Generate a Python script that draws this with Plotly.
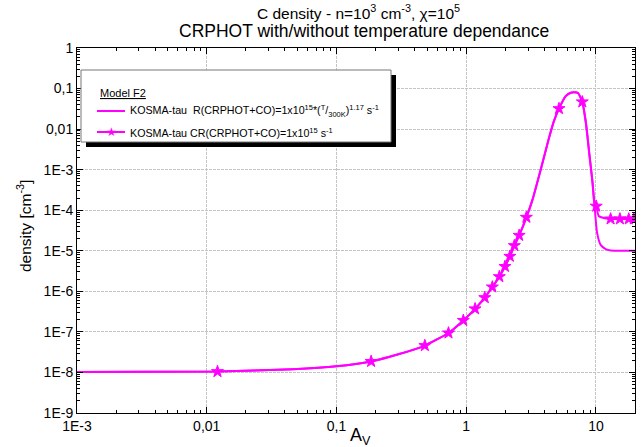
import math
import plotly.graph_objects as go

# ---------------- data ----------------
# Part of the profile shared by both models (A_V, C density in cm^-3)
AV_SHARED = [0.001, 0.0121, 0.046, 0.1, 0.185, 0.3, 0.48, 0.73, 0.95, 1.17, 1.39,
             1.59, 1.80, 1.99, 2.17, 2.35, 2.56, 2.91, 3.24, 3.75, 4.35, 4.75,
             5.19, 5.85, 6.4, 6.8, 7.3, 7.85, 8.4, 8.85, 9.4, 9.7]
C_SHARED = [1.02e-8, 1.05e-8, 1.2e-8, 1.42e-8, 1.87e-8, 2.8e-8, 4.6e-8, 9.4e-8,
            1.92e-7, 3.7e-7, 7.0e-7, 1.28e-6, 2.3e-6, 4.1e-6, 7.3e-6, 1.34e-5,
            2.4e-5, 6.7e-5, 1.8e-4, 1.0e-3, 6.1e-3, 0.016, 0.032, 0.065, 0.079,
            0.081, 0.077, 0.047, 0.013, 2.8e-3, 5.0e-4, 1.6e-4]

# Tail of the temperature-dependent model (no markers)
AV_TAIL_T = [10.2, 10.87, 11.9, 13.0, 16.0, 20.0]
C_TAIL_T = [2.8e-5, 1.4e-5, 1.1e-5, 1.02e-5, 1.0e-5, 1.0e-5]

# Tail of the constant-rate model (line with stars)
AV_TAIL_CONST = [10.05, 10.5, 11.5, 12.97, 15.3, 17.9, 20.0]
C_TAIL_CONST = [1.26e-4, 7.2e-5, 6.4e-5, 6.1e-5, 6.1e-5, 6.1e-5, 6.1e-5]

# Star markers of the constant-rate model
AV_STARS = [0.0121, 0.185, 0.48, 0.73, 0.95, 1.17, 1.39, 1.59, 1.80, 1.99, 2.17,
            2.35, 2.56, 2.91, 5.19, 7.85, 10.05, 12.97, 15.3, 17.9, 19.6]
C_STARS = [1.05e-8, 1.87e-8, 4.6e-8, 9.4e-8, 1.92e-7, 3.7e-7, 7.0e-7, 1.28e-6,
           2.3e-6, 4.1e-6, 7.3e-6, 1.34e-5, 2.4e-5, 6.7e-5, 0.032, 0.047,
           1.26e-4, 6.1e-5, 6.1e-5, 6.1e-5, 6.1e-5]

X_TICKS = [0.001, 0.01, 0.1, 1, 10]
X_TICKTEXT = ["1E-3", "0,01", "0,1", "1", "10"]
Y_TICKS = [1e-9, 1e-8, 1e-7, 1e-6, 1e-5, 1e-4, 1e-3, 1e-2, 1e-1, 1]
Y_TICKTEXT = ["1E-9", "1E-8", "1E-7", "1E-6", "1E-5", "1E-4", "1E-3", "0,01", "0,1", "1"]

# ---------------- layout geometry ----------------
W, H = 644, 447
L, R, T, B = 77, 9, 48, 34
PW, PH = W - L - R, H - T - B
MAG = "#ff00ff"
FONT = "Liberation Sans, Arial, sans-serif"


def px(x):
    return (x - L) / PW


def py(y):
    return (H - B - y) / PH


fig = go.Figure()
fig.add_trace(go.Scatter(x=AV_SHARED + AV_TAIL_T, y=C_SHARED + C_TAIL_T, mode="lines",
                         line=dict(color=MAG, width=2, shape="spline", smoothing=0.5),
                         showlegend=False, hoverinfo="skip"))
fig.add_trace(go.Scatter(x=AV_SHARED + AV_TAIL_CONST, y=C_SHARED + C_TAIL_CONST, mode="lines",
                         line=dict(color=MAG, width=2, shape="spline", smoothing=0.5),
                         showlegend=False, hoverinfo="skip"))
fig.add_trace(go.Scatter(x=AV_STARS, y=C_STARS, mode="markers",
                         marker=dict(symbol="star", size=9, color=MAG,
                                     line=dict(color=MAG, width=1)),
                         showlegend=False, hoverinfo="skip"))

axis_common = dict(
    type="log", showline=True, linecolor="black", linewidth=1, mirror="ticks",
    ticks="inside", ticklen=6, tickcolor="black", tickwidth=1,
    showgrid=True, gridcolor="#c4c4c4", gridwidth=1, griddash="3px,1px",
    zeroline=False, tickfont=dict(family=FONT, size=14, color="black"),
    minor=dict(ticks="inside", ticklen=3, tickcolor="black", dtick="D1", showgrid=False),
)

fig.update_layout(
    width=W, height=H, margin=dict(l=L, r=R, t=T, b=B, pad=0),
    paper_bgcolor="white", plot_bgcolor="white", font=dict(family=FONT, color="black"),
    xaxis=dict(axis_common, range=[-3, math.log10(20)], tickmode="array",
               tickvals=X_TICKS, ticktext=X_TICKTEXT),
    yaxis=dict(axis_common, range=[-9, 0], tickmode="array",
               tickvals=Y_TICKS, ticktext=Y_TICKTEXT),
)

# ---------------- titles ----------------
ann = []
ann.append(dict(text="C density - n=10<sup>3</sup> cm<sup>-3</sup>, χ=10<sup>5</sup>",
                x=px(358), y=py(12), font=dict(size=15.5)))
ann.append(dict(text="CRPHOT with/without temperature dependance",
                x=px(364), y=py(31), font=dict(size=17.5)))
ann.append(dict(text="A<sub>V</sub>", x=px(360), y=py(436), font=dict(size=18)))
ann.append(dict(text="density [cm<sup>-3</sup>]", x=px(24), y=py(226), textangle=-90,
                font=dict(size=15.5)))

# ---------------- hand-made legend box ----------------
shapes = []
shapes.append(dict(type="rect", xref="paper", yref="paper", x0=px(86), x1=px(396),
                   y0=py(75), y1=py(147), fillcolor="black", line=dict(width=0), layer="above"))
shapes.append(dict(type="rect", xref="paper", yref="paper", x0=px(81), x1=px(391),
                   y0=py(70), y1=py(142), fillcolor="white",
                   line=dict(color="#777777", width=1), layer="above"))
for yy in (111, 132):
    shapes.append(dict(type="line", xref="paper", yref="paper", x0=px(97), x1=px(125),
                       y0=py(yy), y1=py(yy), line=dict(color=MAG, width=2), layer="above"))

LEG = 10.7
ann.append(dict(text="<u>Model F2</u>", x=px(98), y=py(93), xanchor="left", font=dict(size=11)))
ann.append(dict(text="KOSMA-tau  R(CRPHOT+CO)=1x10<sup>15</sup>*(<sup>T</sup>/<sub>300K</sub>)<sup>1.17</sup> s<sup>-1</sup>",
                x=px(128), y=py(111), xanchor="left", font=dict(size=LEG)))
ann.append(dict(text="KOSMA-tau CR(CRPHOT+CO)=1x10<sup>15</sup> s<sup>-1</sup>",
                x=px(128), y=py(132), xanchor="left", font=dict(size=LEG)))
ann.append(dict(text="★", x=px(111), y=py(132), font=dict(size=12, color=MAG)))

for a in ann:
    a.setdefault("xref", "paper")
    a.setdefault("yref", "paper")
    a.setdefault("xanchor", "center")
    a.setdefault("yanchor", "middle")
    a.setdefault("showarrow", False)
    f = a.setdefault("font", {})
    f.setdefault("family", FONT)
    f.setdefault("color", "black")

fig.update_layout(annotations=ann, shapes=shapes)
fig.write_html("out.html")
